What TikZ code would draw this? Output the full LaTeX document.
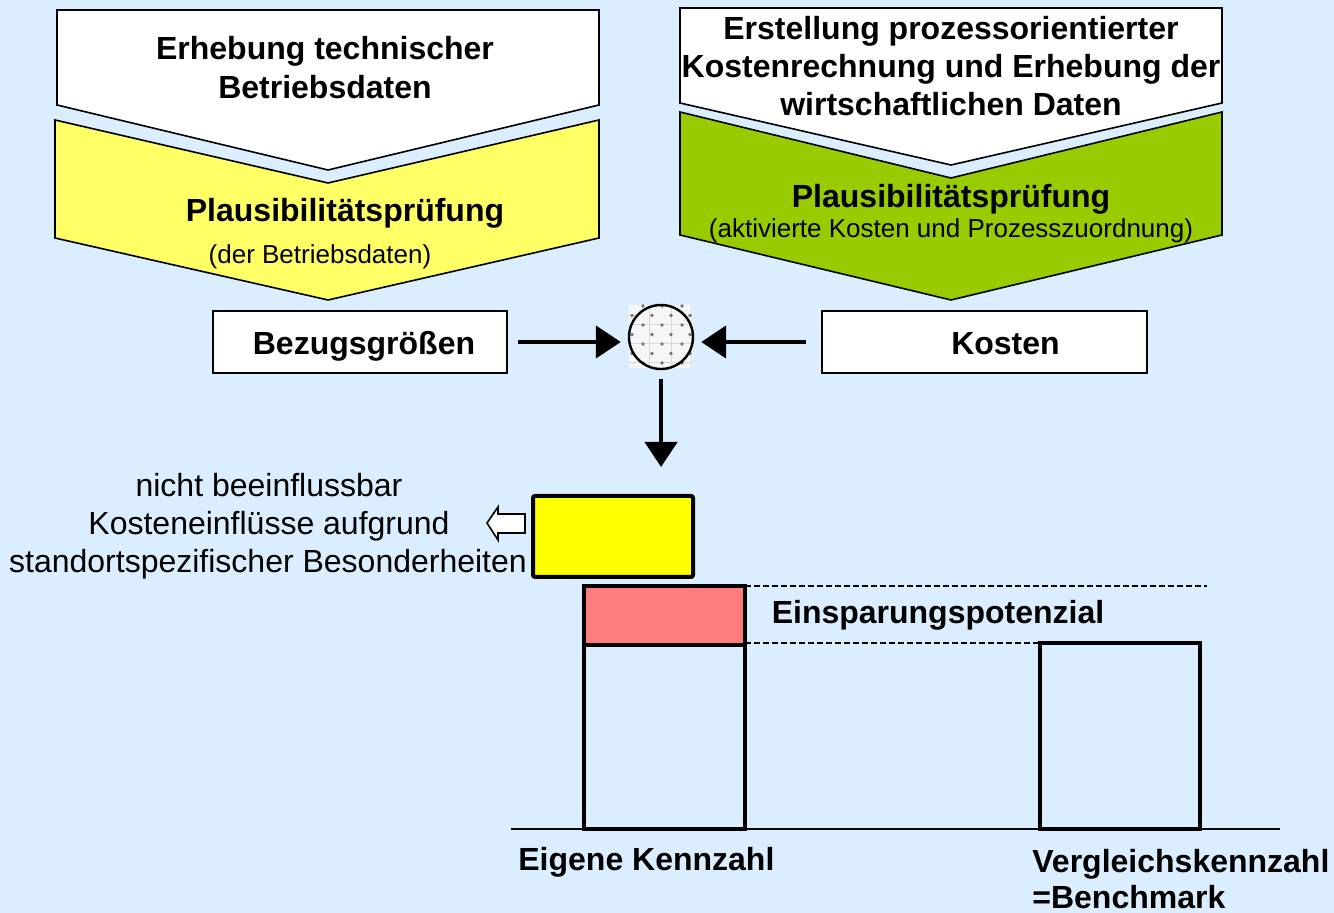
\documentclass[tikz,border=0pt]{standalone}
\usepackage{fontspec}
\setmainfont{Liberation Sans}
\usetikzlibrary{arrows.meta}
\definecolor{bg}{RGB}{219,238,255}
\definecolor{chevyellow}{RGB}{255,255,102}
\definecolor{chevgreen}{RGB}{153,204,0}
\definecolor{boxyellow}{RGB}{255,255,0}
\definecolor{savered}{RGB}{255,124,124}
\begin{document}
\begin{tikzpicture}[x=0.5pt,y=-0.5pt,
  chev/.style={draw=black,line width=0.8pt,line join=miter},
  bigb/.style={font=\fontsize{16}{19}\selectfont\bfseries,inner sep=0pt,anchor=base},
  smallr/.style={font=\fontsize{13}{15}\selectfont,inner sep=0pt,anchor=base},
  midr/.style={font=\fontsize{16}{19}\selectfont,inner sep=0pt,anchor=base},
  flowarrow/.style={line width=2.2pt,-{Triangle[length=12.5pt,width=16pt]}},
  bar/.style={draw=black,line width=2pt},
  dashline/.style={line width=0.8pt,dash pattern=on 3pt off 1.5pt},
  labelbox/.style={draw=black,line width=1pt,fill=white,inner sep=0pt},
]
\fill[bg] (0,0) rectangle (1334,913);
\useasboundingbox (0,0) rectangle (1334,913);

% chevrons left
\draw[chev,fill=white] (57,10) -- (599,10) -- (599,105) -- (328,170) -- (57,105) -- cycle;
\draw[chev,fill=chevyellow] (55,120) -- (328,183) -- (599,120) -- (599,238) -- (328,300) -- (55,238) -- cycle;
% chevrons right
\draw[chev,fill=white] (680,8) -- (1222,8) -- (1222,103) -- (951,165) -- (680,103) -- cycle;
\draw[chev,fill=chevgreen] (680,112) -- (951,178) -- (1222,112) -- (1222,235) -- (951,300) -- (680,235) -- cycle;

\node[bigb] (t1a) at (325,60) {Erhebung technischer};
\node[bigb] (t1b) at (325,99) {Betriebsdaten};
\node[bigb] (p1) at (345,222) {Plausibilitätsprüfung};
\node[smallr] (p1s) at (320,264) {(der Betriebsdaten)};

\node[bigb] (t2a) at (951,39.5) {Erstellung prozessorientierter};
\node[bigb] (t2b) at (951,77.5) {Kostenrechnung und Erhebung der};
\node[bigb] (t2c) at (951,115.5) {wirtschaftlichen Daten};
\node[bigb] (p2) at (951,207.5) {Plausibilitätsprüfung};
\node[smallr] (p2s) at (951,238) {(aktivierte Kosten und Prozesszuordnung)};

% boxes
\node[labelbox,minimum width=147pt,minimum height=31pt] (bez) at (360,342) {};
\node[labelbox,minimum width=162.5pt,minimum height=31pt] (kos) at (984.5,342) {};
\node[bigb] (bezt) at (364,355) {Bezugsgrößen};
\node[bigb] (kost) at (1005.5,355) {Kosten};

% pattern circle
\begin{scope}
\clip (629,305) rectangle (693,368);
\fill[gray!7] (629,305) rectangle (693,368);
\foreach \gx in {649,671,691} \draw[gray!30,line width=0.3pt] (\gx,305) -- (\gx,368);
\foreach \gy in {324,343,362} \draw[gray!30,line width=0.3pt] (629,\gy) -- (693,\gy);
\foreach \r in {0,...,6}{
  \pgfmathsetmacro{\yy}{306+\r*9.5}
  \ifodd\r
    \foreach \xx in {632,652,671,690} \fill[black!55] (\xx,\yy) circle (1.8);
  \else
    \foreach \xx in {643,662,682} \fill[black!55] (\xx,\yy) circle (1.8);
  \fi
}
\end{scope}
\node[circle,draw=black,line width=1.2pt,minimum size=32pt,inner sep=0pt] (circ) at (661,337) {};

\coordinate (dn) at (661,467);
\draw[flowarrow] ([xshift=5pt]bez.east) -- ([xshift=-3.5pt]bez.east -| circ.west);
\draw[flowarrow] ([xshift=-7.5pt]kos.west) -- ([xshift=3.5pt]kos.west -| circ.east);
\draw[flowarrow] ([yshift=-4.5pt]circ.south) -- (dn);

% yellow box and hollow arrow
\node[draw=black,line width=2pt,fill=boxyellow,rounded corners=1pt,minimum width=80pt,minimum height=40.5pt,inner sep=0pt] (ybox) at (613,536.5) {};
\draw[line width=0.8pt,fill=white,line join=miter] (487,523) -- (498,507) -- (498,514) -- (525,514) -- (525,533) -- (498,533) -- (498,540) -- cycle;
\node[midr] (n1) at (269,496.5) {nicht beeinflussbar};
\node[midr] (n2) at (269,534.5) {Kosteneinflüsse aufgrund};
\node[midr] (n3) at (268,572.5) {standortspezifischer Besonderheiten};

% chart
\draw[line width=1pt] (511,829) -- (1280,829);
\draw[dashline] (745,586) -- (1207,586);
\draw[dashline] (745,643) -- (1040,643);
\draw[bar,fill=savered] (584,586) rectangle (745,645);
\draw[bar] (584,645) rectangle (745,829);
\draw[bar] (1040,643) rectangle (1200,829);
\node[bigb] (eins) at (938,623.5) {Einsparungspotenzial};
\node[bigb,anchor=base west] (eig) at (518,870.5) {Eigene Kennzahl};
\node[bigb,anchor=base west] (ver) at (1032,872.5) {Vergleichskennzahl};
\node[bigb,anchor=base west] (ben) at (1032,908.5) {=Benchmark};
\end{tikzpicture}
\end{document}
